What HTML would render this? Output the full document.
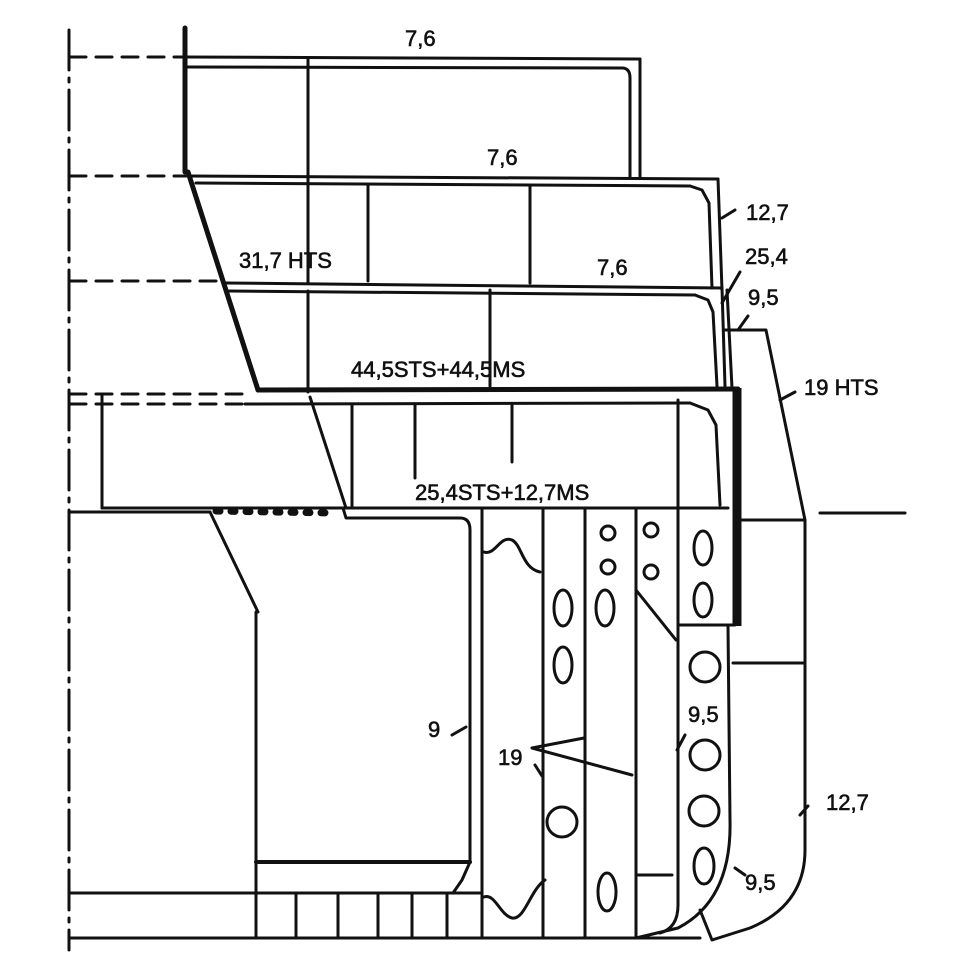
<!DOCTYPE html>
<html><head><style>
html,body{margin:0;padding:0;background:#fff;}
svg{display:block;}
text{font-family:"Liberation Sans",Arial,sans-serif;font-size:22px;fill:#111;stroke:#111;stroke-width:0.6;}
</style></head><body>
<svg width="960" height="956" viewBox="0 0 960 956" xmlns="http://www.w3.org/2000/svg">
<g stroke="#111" stroke-width="3" fill="none" stroke-linecap="round" stroke-linejoin="round">
<line x1="69" y1="30" x2="69" y2="950" stroke-dasharray="40,8,4,8"/>
<line x1="70" y1="57" x2="183" y2="57" stroke-dasharray="16,10"/>
<line x1="70" y1="176" x2="186" y2="176" stroke-dasharray="16,10"/>
<line x1="70" y1="281" x2="224" y2="281" stroke-dasharray="16,10"/>
<line x1="70" y1="394" x2="252" y2="394" stroke-dasharray="16,10"/>
<line x1="70" y1="404" x2="245" y2="404" stroke-dasharray="16,10"/>
<line x1="185" y1="28" x2="185" y2="172" stroke-width="5"/>
<line x1="185" y1="57" x2="640" y2="59"/>
<line x1="185" y1="67" x2="622" y2="68"/>
<path d="M622 68 Q630 68 630 78 L630 178"/>
<line x1="640" y1="59" x2="640" y2="178"/>
<line x1="308" y1="58" x2="308" y2="282"/>
<line x1="188" y1="176" x2="718" y2="179"/>
<line x1="196" y1="183" x2="690" y2="186"/>
<path d="M690 186 L702 190 L709 203 L712 288"/>
<line x1="718" y1="179" x2="722" y2="290"/>
<line x1="368" y1="184" x2="368" y2="281"/>
<line x1="530" y1="185" x2="530" y2="283"/>
<line x1="188" y1="172" x2="258" y2="390" stroke-width="5"/>
<line x1="225" y1="283" x2="722" y2="288"/>
<line x1="229" y1="291" x2="695" y2="295"/>
<path d="M695 295 L708 300 L713 312 L717 386"/>
<line x1="722" y1="288" x2="725" y2="386"/>
<line x1="490" y1="290" x2="490" y2="386"/>
<line x1="308" y1="291" x2="308" y2="392"/>
<line x1="258" y1="390" x2="738" y2="389" stroke-width="5"/>
<line x1="245" y1="404" x2="690" y2="403"/>
<path d="M690 403 L708 410 L716 425 L720 505"/>
<line x1="102" y1="394" x2="102" y2="508"/>
<line x1="310" y1="397" x2="346" y2="508"/>
<line x1="352" y1="404" x2="352" y2="506"/>
<line x1="415" y1="404" x2="415" y2="478"/>
<line x1="512" y1="404" x2="512" y2="462"/>
<line x1="678" y1="400" x2="678" y2="905"/>
<line x1="737" y1="388" x2="737" y2="626" stroke-width="9" stroke-linecap="butt"/>
<line x1="727" y1="290" x2="732" y2="388"/>
<line x1="102" y1="508" x2="728" y2="508"/>
<line x1="70" y1="512" x2="210" y2="512"/>
<line x1="216" y1="511" x2="334" y2="513" stroke-width="7" stroke-dasharray="4,11"/>
<path d="M343 508 L346 518 L460 518 Q470 518 470 530 L470 862"/>
<line x1="210" y1="512" x2="258" y2="612"/>
<line x1="256" y1="612" x2="256" y2="938"/>
<line x1="256" y1="862" x2="470" y2="862" stroke-width="4"/>
<path d="M470 862 L462 880 L453 893"/>
<line x1="70" y1="893" x2="480" y2="893"/>
<line x1="70" y1="938" x2="700" y2="938"/>
<line x1="296" y1="893" x2="296" y2="938"/>
<line x1="338" y1="893" x2="338" y2="938"/>
<line x1="378" y1="893" x2="378" y2="938"/>
<line x1="412" y1="893" x2="412" y2="938"/>
<line x1="447" y1="893" x2="447" y2="938"/>
<line x1="482" y1="508" x2="482" y2="938"/>
<line x1="543" y1="508" x2="543" y2="938"/>
<line x1="585" y1="508" x2="585" y2="938"/>
<line x1="636" y1="508" x2="636" y2="938"/>
<path d="M484 552 C495 556 500 535 512 540 C522 545 522 568 540 572"/>
<path d="M484 897 C495 893 500 915 512 918 C525 920 530 890 545 880"/>
<path d="M678 625 L735 625"/>
<path d="M728 626 L730 820 Q732 900 678 928 L636 938"/>
<path d="M678 880 L678 905 Q678 928 660 933"/>
<line x1="636" y1="590" x2="676" y2="640"/>
<line x1="638" y1="875" x2="672" y2="875"/>
<path d="M725 330 L766 330 L805 520 L805 850 Q805 905 750 928 L712 940 L700 910"/>
<line x1="740" y1="520" x2="805" y2="520"/>
<line x1="733" y1="663" x2="805" y2="663"/>
<line x1="820" y1="513" x2="905" y2="513"/>
<circle cx="608" cy="533" r="7"/>
<circle cx="608" cy="567" r="7"/>
<circle cx="651" cy="530" r="7"/>
<circle cx="651" cy="572" r="7"/>
<ellipse cx="703" cy="548" rx="9" ry="17"/>
<ellipse cx="703" cy="600" rx="9" ry="17"/>
<ellipse cx="563" cy="608" rx="9" ry="18"/>
<ellipse cx="605" cy="608" rx="9" ry="18"/>
<ellipse cx="563" cy="665" rx="9" ry="18"/>
<circle cx="705" cy="667" r="15"/>
<circle cx="705" cy="755" r="15"/>
<circle cx="704" cy="811" r="15"/>
<ellipse cx="704" cy="866" rx="10" ry="18"/>
<circle cx="562" cy="822" r="15"/>
<ellipse cx="607" cy="892" rx="9" ry="19"/>
<line x1="722" y1="218" x2="735" y2="210"/>
<line x1="722" y1="303" x2="740" y2="272"/>
<line x1="738" y1="330" x2="748" y2="316"/>
<line x1="780" y1="400" x2="795" y2="392"/>
<line x1="452" y1="735" x2="466" y2="727"/>
<line x1="532" y1="748" x2="584" y2="738"/>
<line x1="532" y1="748" x2="632" y2="775"/>
<line x1="535" y1="765" x2="542" y2="776"/>
<line x1="677" y1="750" x2="685" y2="735"/>
<line x1="800" y1="815" x2="808" y2="806"/>
<line x1="735" y1="868" x2="745" y2="875"/>
</g>
<text x="405" y="46">7,6</text>
<text x="487" y="165">7,6</text>
<text x="597" y="275">7,6</text>
<text x="239" y="268">31,7 HTS</text>
<text x="351" y="377">44,5STS+44,5MS</text>
<text x="415" y="500">25,4STS+12,7MS</text>
<text x="746" y="220">12,7</text>
<text x="745" y="264">25,4</text>
<text x="748" y="305">9,5</text>
<text x="804" y="395">19 HTS</text>
<text x="428" y="737">9</text>
<text x="498" y="765">19</text>
<text x="688" y="722">9,5</text>
<text x="826" y="810">12,7</text>
<text x="745" y="890">9,5</text>
</svg>
</body></html>
